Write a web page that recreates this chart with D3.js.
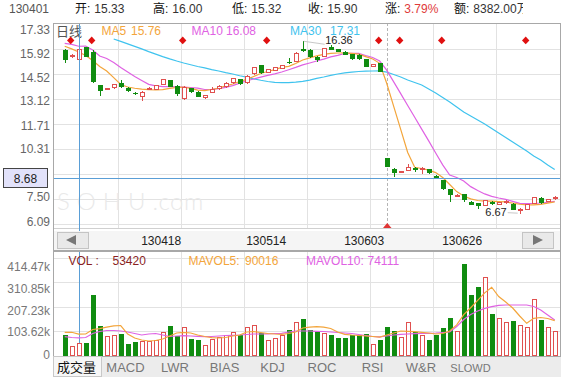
<!DOCTYPE html>
<html><head><meta charset="utf-8">
<script src="https://cdn.jsdelivr.net/npm/d3@7/dist/d3.min.js"></script>
<style>
html,body{margin:0;padding:0;background:#fff;}
svg{display:block;font-family:"Liberation Sans",Arial,"Noto Sans CJK SC",sans-serif;}
</style></head><body>
<svg id="c" width="573" height="381"></svg>
<script>
// ---------- data ----------
const opens = [15.87,15.46,15.33,16.02,15.77,13.90,13.66,13.72,14.03,13.76,
  13.48,13.24,13.63,13.62,13.90,14.18,13.84,13.10,13.72,13.52,
  13.15,13.47,13.66,13.77,14.00,14.22,14.00,14.52,15.02,14.59,
  14.71,14.80,15.18,15.21,15.90,15.87,15.49,15.49,16.02,15.92,
  15.77,15.64,15.60,15.35,14.93,15.12,9.78,9.18,8.96,9.09,
  9.25,9.12,9.16,8.80,8.56,8.06,7.68,7.77,7.34,7.25,
  7.12,7.34,7.16,7.25,7.23,6.84,6.88,7.23,7.57,7.34,7.48];
const highs = [15.90,15.62,16.00,16.05,15.85,13.92,13.76,13.97,14.18,13.80,
  13.50,13.54,13.78,13.92,14.25,14.20,13.88,13.82,13.75,13.55,
  13.36,13.81,13.88,14.05,14.30,14.25,14.45,14.93,15.05,14.80,
  14.92,15.05,15.40,15.74,16.36,15.90,15.52,15.98,16.15,15.95,
  15.80,15.66,15.62,15.38,15.10,15.14,9.80,9.25,9.08,9.46,
  9.27,9.27,9.18,8.82,8.58,8.08,7.80,7.79,7.36,7.27,
  7.46,7.36,7.33,7.42,7.25,6.97,7.22,7.61,7.59,7.51,7.64];
const lows = [15.12,15.42,15.32,15.45,14.00,13.30,13.62,13.70,13.76,13.52,
  13.32,13.02,13.60,13.60,13.88,13.78,13.30,13.05,13.46,13.20,
  13.10,13.45,13.62,13.75,13.98,13.90,13.98,14.48,14.52,14.57,
  14.69,14.78,15.10,15.19,15.78,15.44,15.18,15.47,15.85,15.75,
  15.57,15.30,15.32,14.90,14.90,14.62,9.28,8.75,8.94,9.07,
  9.00,8.92,8.92,8.60,8.02,7.31,7.62,7.35,7.14,6.92,
  7.10,7.18,7.14,7.23,6.86,6.67,6.86,7.21,7.23,7.32,7.46];
const closes = [15.31,15.58,15.90,15.49,14.05,13.58,13.72,13.95,13.81,13.58,
  13.37,13.52,13.75,13.88,14.22,13.81,13.38,13.78,13.50,13.25,
  13.34,13.66,13.86,14.03,14.28,13.96,14.43,14.90,14.56,14.78,
  14.90,15.03,15.12,15.72,15.80,15.46,15.31,15.96,15.87,15.77,
  15.59,15.35,15.35,14.93,15.08,14.65,9.31,8.94,9.06,9.31,
  9.12,9.25,8.94,8.62,8.04,7.72,7.74,7.44,7.16,7.12,
  7.44,7.20,7.31,7.40,6.89,6.95,7.20,7.59,7.25,7.49,7.62];
const ma5 = [16.08,15.93,15.76,15.56,15.28,14.94,14.69,14.32,13.93,13.79,
  13.72,13.67,13.64,13.62,13.64,13.71,13.76,13.78,13.71,13.61,
  13.59,13.65,13.73,13.85,13.96,14.10,14.22,14.38,14.55,14.66,
  14.77,14.89,14.95,15.11,15.31,15.43,15.54,15.62,15.68,15.70,
  15.71,15.68,15.64,15.50,15.36,15.12,14.00,12.70,11.41,10.11,
  9.28,9.21,9.12,8.98,8.70,8.31,7.91,7.66,7.50,7.41,
  7.38,7.37,7.35,7.33,7.26,7.20,7.17,7.16,7.19,7.26,7.33];
const ma10 = [16.24,16.18,16.08,16.09,15.87,15.53,15.39,15.17,14.89,14.63,
  14.38,14.16,13.94,13.85,13.81,13.81,13.80,13.79,13.76,13.73,
  13.65,13.66,13.70,13.77,13.87,14.01,14.14,14.24,14.34,14.44,
  14.53,14.63,14.76,14.89,15.03,15.14,15.25,15.36,15.48,15.57,
  15.67,15.68,15.68,15.56,15.45,15.25,14.74,14.08,13.42,12.75,
  12.09,11.42,10.76,10.08,9.41,8.84,8.70,8.51,8.19,7.97,
  7.78,7.64,7.55,7.47,7.36,7.25,7.24,7.25,7.27,7.31,7.36];
const ma30 = [null,null,null,null,null,null,null,16.49,16.35,16.21,
  16.07,15.93,15.78,15.64,15.50,15.37,15.25,15.14,15.04,14.94,
  14.86,14.77,14.69,14.60,14.52,14.42,14.34,14.25,14.17,14.10,
  14.05,14.03,14.04,14.06,14.11,14.18,14.27,14.35,14.44,14.52,
  14.58,14.62,14.66,14.68,14.69,14.70,14.63,14.49,14.35,14.18,
  14.04,13.90,13.68,13.45,13.20,12.95,12.67,12.38,12.16,11.93,
  11.71,11.46,11.20,10.95,10.70,10.45,10.19,9.91,9.69,9.41,9.15];
// volumes in thousands of shares (hands)
const volumes = [86,41,53.42,52,256,124,82,86,90,48,
  55,61,61,65,98,124,84,120,70,65,
  42,69,78,88,97,88,120,128,96,65,
  72,86,107,143,154,107,100,93,86,75,
  75,86,86,90,47,65,119,103,76,140,
  99,86,65,86,115,157,104,388,256,289,
  331,175,157,140,146,129,119,238,150,119,103];
const mavol5 = [97.7,97.7,90.016,90.4,109.6,113,120,125,126.5,90.4,
  73.5,65,60.7,62.8,69.2,82,94.7,97.7,94.7,86.2,
  79.8,74.7,73.5,75.6,82,86.2,99,101,96.8,92.6,
  90.5,89.2,92.6,99,116,120,121.5,120,113.8,99,
  89.2,86.2,84,82,79.8,76.9,86.2,94.7,103.2,102,
  100.2,97.7,94.7,90.4,92.6,103.2,129,173,202,233,
  265,289,249.7,226.3,200.9,166.9,135.9,157.1,160.5,156.3,147];
const mavol10 = [79,75.6,74.111,75.6,92.6,101,105.3,105.3,103.2,99,
  92.6,86.2,90.4,92.6,86.2,79.8,82,83.2,82,80.7,
  79,79.8,82,84,85,86.2,88.3,90.4,90.4,91.3,
  92.6,93.4,99,103.2,103.2,103.2,102,101,99,96.8,
  94.7,92.6,88.3,84,79.8,78.6,82,86.2,89.2,90.4,
  91.7,92.6,93.4,94.7,96.8,99,122,152,173,188,
  199,207,212,213.6,213.6,213.6,213.6,207.2,192.4,171.1,150];
const priceTicks = [17.33,15.92,14.52,13.12,11.71,10.31,8.90,7.50,6.09];
const hiddenPriceLabel = 8.90; // covered by the crosshair price box in the reference
const volTicks = [414470,310850,207230,103620,0];
const volTickLabels = ["414.47k","310.85k","207.23k","103.62k","0"];
const dateLabels = ["130418","130514","130603","130626"];
const dateIdx = [13,28,42,56];
const markerIdx = [1,4,17,29,45,48,54,66];
const exRightIdx = 46;
const crossIdx = 2;
const crossPrice = 8.68;
const highIdx = 34, lowIdx = 65;
const header = [["130401",""],["开:","15.33"],["高:","16.00"],["低:","15.32"],["收:","15.90"],["涨:","3.79%"],["额:","8382.00万"]];
const maLegend = [["MA5","15.76"],["MA10","16.08"],["MA30","17.31"]];
const volLegend = [["VOL :","53420"],["MAVOL5:","90016"],["MAVOL10:","74111"]];
const tabs = ["成交量","MACD","LWR","BIAS","KDJ","ROC","RSI","W&R","SLOWD"];

// ---------- layout ----------
const L = 53, R = 560, PT = 23, PB = 228, SB0 = 231, SB1 = 249, VT = 251, VB = 356;
const C_UP = "#e0504f", C_DN = "#108c10";
const C_MA5 = "#f3a53b", C_MA10 = "#df62e3", C_MA30 = "#3fc3ee";
const C_GRID = "#e2e2e2", C_BORDER = "#a8a8a8", C_CROSS = "#5a9ed6";

const svg = d3.select("#c");
const n = opens.length;
const x = d3.scaleLinear().domain([0, n - 1]).range([64.7, 554.7]);
const y = d3.scaleLinear().domain([6.09, 17.33]).range([224, 24]);
const yLab = d3.scaleLinear().domain([6.09, 17.33]).range([221, 29]);
const yv = d3.scaleLinear().domain([0, 414470]).range([355.3, 257.7]);
const yvLab = d3.scaleLinear().domain([0, 414470]).range([354, 266]);
const px = i => Math.round(x(i));

// header
const hx = [9, 75, 153, 232, 308, 385, 454];
svg.append("clipPath").attr("id", "hclip").append("rect").attr("x", 0).attr("y", 0).attr("width", 523).attr("height", 20);
const hg = svg.append("g").attr("clip-path", "url(#hclip)");
header.forEach((h, k) => {
  const t = hg.append("text").attr("x", hx[k]).attr("y", 12.5).attr("font-size", 12);
  if (k === 0) { t.attr("fill", "#555").text(h[0]); return; }
  t.append("tspan").attr("fill", "#111").text(h[0]);
  t.append("tspan").attr("dx", 4).attr("fill", h[0] === "涨:" ? "#e03a3a" : "#333").text(h[1]);
});

// frames
svg.append("rect").attr("x", L + 0.5).attr("y", PT + 0.5).attr("width", R - L).attr("height", SB1 + 1 - PT)
  .attr("fill", "#fff").attr("stroke", C_BORDER);
svg.append("rect").attr("x", L + 0.5).attr("y", VT + 0.5).attr("width", R - L).attr("height", VB - VT)
  .attr("fill", "#fff").attr("stroke", C_BORDER);

// grid
const gridX = d3.range(7).map(k => L + 65 + 63 * k);
const grid = svg.append("g").attr("stroke", C_GRID).attr("shape-rendering", "crispEdges");
priceTicks.slice(1).forEach(v => grid.append("line").attr("x1", L + 1).attr("x2", R).attr("y1", Math.round(y(v)) + 0.5).attr("y2", Math.round(y(v)) + 0.5));
grid.append("line").attr("x1", L + 1).attr("x2", R).attr("y1", PB + 0.5).attr("y2", PB + 0.5).attr("stroke", "#d0d0d0");
volTicks.slice(0, 4).forEach(v => grid.append("line").attr("x1", L + 1).attr("x2", R).attr("y1", Math.round(yv(v)) + 0.5).attr("y2", Math.round(yv(v)) + 0.5));
gridX.forEach(gx => {
  grid.append("line").attr("x1", gx + 0.5).attr("x2", gx + 0.5).attr("y1", PT + 1).attr("y2", PB);
  grid.append("line").attr("x1", gx + 0.5).attr("x2", gx + 0.5).attr("y1", VT + 1).attr("y2", VB);
});

// watermark
const wm = svg.append("text").attr("x", 57).attr("y", 210).attr("font-size", 24).attr("fill", "#e9e9e9")
  .attr("font-family", "Lato, 'Liberation Sans', sans-serif").attr("font-weight", 300);
wm.append("tspan").attr("letter-spacing", 7).text("SOHU");
wm.append("tspan").attr("letter-spacing", 0.5).text(".com");

// axis labels
svg.append("g").selectAll("text").data(priceTicks.filter(d => d !== hiddenPriceLabel)).join("text")
  .attr("x", 50).attr("y", d => yLab(d) + 4.5).attr("text-anchor", "end")
  .attr("font-size", 12).attr("fill", "#666").text(d => d.toFixed(2));
svg.append("g").selectAll("text").data(volTicks).join("text")
  .attr("x", 50).attr("y", d => yvLab(d) + 4.5).attr("text-anchor", "end")
  .attr("font-size", 12).attr("fill", "#777").text((d, i) => volTickLabels[i]);

// clip
svg.append("clipPath").attr("id", "pclip").append("rect").attr("x", L + 1).attr("y", PT + 1).attr("width", R - L - 1).attr("height", PB - PT - 1);
const pg = svg.append("g").attr("clip-path", "url(#pclip)");

// ex-rights dashed line
pg.append("line").attr("x1", px(exRightIdx) + 0.5).attr("x2", px(exRightIdx) + 0.5).attr("y1", PT).attr("y2", PB)
  .attr("stroke", "#b5b5b5").attr("stroke-dasharray", "3,2");
pg.append("path").attr("d", `M${px(exRightIdx) - 4},${PB}L${px(exRightIdx) + 4.5},${PB}L${px(exRightIdx) + 0.25},${PB - 5}Z`).attr("fill", "#e03535");

// MA lines
const lineP = d3.line().defined(d => d != null).x((d, i) => x(i)).y(d => y(d));
[[ma30, C_MA30], [ma10, C_MA10], [ma5, C_MA5]].forEach(([arr, c]) => {
  pg.append("path").attr("d", lineP(arr)).attr("fill", "none").attr("stroke", c).attr("stroke-width", 1.2);
});

// candles
const cg = pg.append("g").attr("shape-rendering", "crispEdges");
d3.range(n).forEach(i => {
  const up = closes[i] >= opens[i];
  const c = up ? C_UP : C_DN;
  const cx = px(i);
  cg.append("line").attr("x1", cx + 0.5).attr("x2", cx + 0.5).attr("y1", y(highs[i])).attr("y2", y(lows[i])).attr("stroke", c);
  const top = Math.round(y(Math.max(opens[i], closes[i])));
  const bot = Math.round(y(Math.min(opens[i], closes[i])));
  const h = Math.max(1, bot - top);
  if (up) cg.append("rect").attr("x", cx - 2 + 0.5).attr("y", top + 0.5).attr("width", 4).attr("height", Math.max(1, h - 1)).attr("fill", "#fff").attr("stroke", c);
  else cg.append("rect").attr("x", cx - 2).attr("y", top).attr("width", 5).attr("height", h).attr("fill", c);
});

// markers
pg.append("g").selectAll("path").data(markerIdx).join("path")
  .attr("d", d => `M${x(d) - 1},${36.6}l3.7,3.8l-3.7,3.8l-3.7,-3.8Z`).attr("fill", "#e01010");

// high/low annotations
pg.append("line").attr("x1", x(highIdx) + 1).attr("y1", y(highs[highIdx])).attr("x2", x(highIdx) + 22).attr("y2", y(highs[highIdx]) + 3).attr("stroke", "#c8c8c8");
pg.append("text").attr("x", x(highIdx) + 22.5).attr("y", y(highs[highIdx]) + 2.5).attr("font-size", 11).attr("fill", "#222").text(highs[highIdx].toFixed(2));
pg.append("line").attr("x1", x(lowIdx) - 2).attr("y1", y(lows[lowIdx]) - 0.5).attr("x2", x(lowIdx) - 12).attr("y2", y(lows[lowIdx]) - 1).attr("stroke", "#c8c8c8");
pg.append("text").attr("x", x(lowIdx) - 13).attr("y", y(lows[lowIdx]) + 2.5).attr("text-anchor", "end").attr("font-size", 11).attr("fill", "#222").text(lows[lowIdx].toFixed(2));

// legend
svg.append("text").attr("x", 56).attr("y", 36).attr("font-size", 13).attr("fill", "#555").text("日线");
const maX = [[101.5, 131], [191.5, 226], [290, 330]];
const maC = [C_MA5, C_MA10, C_MA30];
maLegend.forEach((m, k) => {
  svg.append("text").attr("x", maX[k][0]).attr("y", 34.5).attr("font-size", 12).attr("fill", maC[k]).text(m[0]);
  svg.append("text").attr("x", maX[k][1]).attr("y", 34.5).attr("font-size", 12).attr("fill", maC[k]).text(m[1]);
});

// crosshair
svg.append("line").attr("x1", L + 1).attr("x2", R).attr("y1", Math.round(y(crossPrice)) + 0.5).attr("y2", Math.round(y(crossPrice)) + 0.5).attr("stroke", C_CROSS);
svg.append("line").attr("x1", px(crossIdx) + 0.5).attr("x2", px(crossIdx) + 0.5).attr("y1", PT + 1).attr("y2", SB0).attr("stroke", C_CROSS);
svg.append("line").attr("x1", px(crossIdx) + 0.5).attr("x2", px(crossIdx) + 0.5).attr("y1", VT + 1).attr("y2", VB).attr("stroke", C_CROSS);
svg.append("rect").attr("x", 3.5).attr("y", Math.round(y(crossPrice)) - 9.5).attr("width", 44).attr("height", 19)
  .attr("fill", "#e2e2fa").attr("stroke", "#444");
svg.append("text").attr("x", 25.5).attr("y", Math.round(y(crossPrice)) + 4.5).attr("text-anchor", "middle").attr("font-size", 12).attr("fill", "#222").text(crossPrice.toFixed(2));

// scrollbar
svg.append("rect").attr("x", L + 1).attr("y", SB0).attr("width", R - L - 1).attr("height", SB1 - SB0 + 1).attr("fill", "#f5f5f5");
[57, 522].forEach(bx => {
  svg.append("rect").attr("x", bx + 0.5).attr("y", SB0 + 1.5).attr("width", 31).attr("height", 16).attr("fill", "#e9e9e9").attr("stroke", "#c4c4c4");
});
svg.append("path").attr("d", "M66,240L76,235L76,245Z").attr("fill", "#777");
svg.append("path").attr("d", "M543,240L533,235L533,245Z").attr("fill", "#777");
svg.append("g").selectAll("text").data(dateIdx).join("text")
  .attr("x", d => x(d) + 5.5).attr("y", 244.5).attr("text-anchor", "middle").attr("font-size", 12).attr("fill", "#222")
  .text((d, i) => dateLabels[i]);

// volume
svg.append("clipPath").attr("id", "vclip").append("rect").attr("x", L + 1).attr("y", VT + 1).attr("width", R - L - 1).attr("height", VB - VT - 1);
const vg = svg.append("g").attr("clip-path", "url(#vclip)");
const vb = vg.append("g").attr("shape-rendering", "crispEdges");
d3.range(n).forEach(i => {
  const up = closes[i] >= opens[i];
  const c = up ? C_UP : C_DN;
  const cx = px(i);
  const top = Math.round(yv(volumes[i] * 1000));
  const bot = Math.round(yv(0));
  if (up) vb.append("rect").attr("x", cx - 2 + 0.5).attr("y", top + 0.5).attr("width", 4).attr("height", bot - top).attr("fill", "#fff").attr("stroke", c);
  else vb.append("rect").attr("x", cx - 2).attr("y", top).attr("width", 5).attr("height", bot - top + 1).attr("fill", c);
});
const lineV = d3.line().x((d, i) => x(i)).y(d => yv(d * 1000));
[[mavol10, C_MA10], [mavol5, C_MA5]].forEach(([arr, c]) => {
  vg.append("path").attr("d", lineV(arr)).attr("fill", "none").attr("stroke", c).attr("stroke-width", 1.2);
});
const vlX = [[68.5, 112.5], [188.5, 245], [306, 367.5]];
const vlC = ["#8a1f1f", C_MA5, C_MA10];
volLegend.forEach((m, k) => {
  svg.append("text").attr("x", vlX[k][0]).attr("y", 264.5).attr("font-size", 12).attr("fill", vlC[k]).text(m[0]);
  svg.append("text").attr("x", vlX[k][1]).attr("y", 264.5).attr("font-size", 12).attr("fill", vlC[k]).text(m[1]);
});

// tabs
svg.append("rect").attr("x", L).attr("y", VB + 1).attr("width", R - L + 1).attr("height", 20).attr("fill", "#ececec");
svg.append("rect").attr("x", L + 0.5).attr("y", VB + 0.5).attr("width", 48).attr("height", 20).attr("fill", "#f7f7f7").attr("stroke", "#c8c8c8");
const tabX = [76.5, 125.5, 175, 224.5, 272.5, 322, 372.5, 421, 470.5];
tabs.forEach((t, k) => {
  svg.append("text").attr("x", tabX[k]).attr("y", 371.5).attr("text-anchor", "middle")
    .attr("font-size", t === "SLOWD" ? 11 : 13).attr("fill", k === 0 ? "#111" : "#777").text(t);
});
</script>
</body></html>
